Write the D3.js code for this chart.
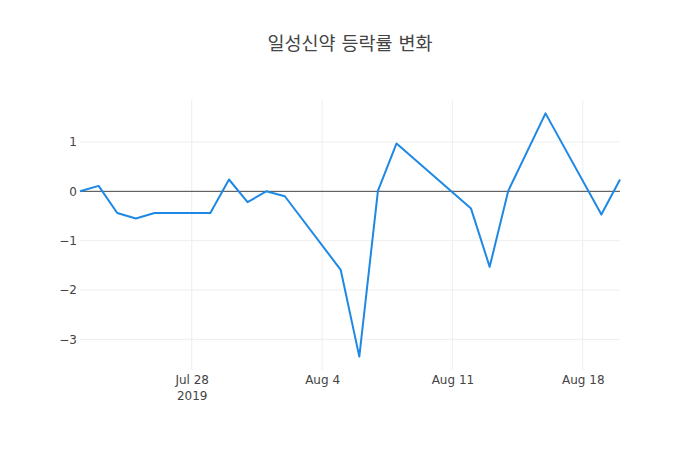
<!DOCTYPE html>
<html>
<head>
<meta charset="utf-8">
<script src="https://cdn.jsdelivr.net/npm/d3@7"></script>
<style>
  body { margin: 0; background: #fff; }
  text { font-family: "DejaVu Sans", "Noto Sans CJK KR", sans-serif; }
</style>
</head>
<body>
<script>
// trading days and daily change rate (%)
const dates = ["2019-07-22", "2019-07-23", "2019-07-24", "2019-07-25", "2019-07-26",
               "2019-07-29", "2019-07-30", "2019-07-31", "2019-08-01", "2019-08-02",
               "2019-08-05", "2019-08-06", "2019-08-07", "2019-08-08",
               "2019-08-12", "2019-08-13", "2019-08-14", "2019-08-16",
               "2019-08-19", "2019-08-20"];
const changes = [0, 0.11, -0.44, -0.55, -0.44,
                 -0.44, 0.24, -0.22, 0, -0.10,
                 -1.59, -3.35, 0.01, 0.97,
                 -0.35, -1.53, 0.01, 1.58,
                 -0.47, 0.24];
const xTicks = ["2019-07-28", "2019-08-04", "2019-08-11", "2019-08-18"];
const yTicks = [-3, -2, -1, 0, 1];
const title = "일성신약 등락률 변화";

const parse = d3.timeParse("%Y-%m-%d");
const data = dates.map((d, i) => ({date: parse(d), value: changes[i]}));

const margin = {top: 100, right: 80, bottom: 80, left: 80};
const outerWidth = 700, outerHeight = 450;
const width = outerWidth - margin.left - margin.right;
const height = outerHeight - margin.top - margin.bottom;

const outerSvg = d3.select("body").append("svg")
    .attr("width", outerWidth)
    .attr("height", outerHeight);

const svg = outerSvg.append("g")
    .attr("transform", "translate(" + margin.left + "," + margin.top + ")");

const xScale = d3.scaleTime()
    .domain(d3.extent(data, d => d.date))
    .range([0, width]);

const yMin = d3.min(changes), yMax = d3.max(changes);
const pad = (yMax - yMin) * 0.055;
const yScale = d3.scaleLinear()
    .domain([yMin - pad, yMax + pad])
    .range([height, 0]);

// grid lines
svg.append("g").selectAll("line")
    .data(yTicks.filter(t => t !== 0))
    .join("line")
    .attr("x1", 0).attr("x2", width)
    .attr("y1", d => yScale(d)).attr("y2", d => yScale(d))
    .attr("stroke", "#eee").attr("stroke-width", 1);

svg.append("g").selectAll("line")
    .data(xTicks.map(parse))
    .join("line")
    .attr("x1", d => xScale(d)).attr("x2", d => xScale(d))
    .attr("y1", 0).attr("y2", height)
    .attr("stroke", "#eee").attr("stroke-width", 1);

// zero line
svg.append("line")
    .attr("x1", 0).attr("x2", width)
    .attr("y1", yScale(0)).attr("y2", yScale(0))
    .attr("stroke", "#444").attr("stroke-width", 1);

// axes
const fmt = d3.timeFormat("%b %-d");
const xAxis = svg.append("g")
    .attr("transform", "translate(0," + height + ")")
    .call(d3.axisBottom(xScale).tickValues(xTicks.map(parse)).tickSize(0).tickPadding(5).tickFormat(fmt));
xAxis.select(".domain").remove();
xAxis.selectAll("text")
    .attr("fill", "#444").style("font-size", "12px")
    .filter((d, i) => i === 0)
    .each(function() {
        d3.select(this).append("tspan").attr("x", 0).attr("dy", "1.35em").text("2019");
    });

const yAxis = svg.append("g")
    .call(d3.axisLeft(yScale).tickValues(yTicks).tickSize(0).tickPadding(3)
        .tickFormat(d => d < 0 ? "\u2212" + Math.abs(d) : d));
yAxis.select(".domain").remove();
yAxis.selectAll("text").attr("fill", "#444").style("font-size", "12px");

// the line
const line = d3.line()
    .x(d => xScale(d.date))
    .y(d => yScale(d.value));

svg.append("path")
    .datum(data)
    .attr("d", line)
    .attr("fill", "none")
    .attr("stroke", "#1e88e5")
    .attr("stroke-width", 2)
    .attr("stroke-linejoin", "round");

// title
outerSvg.append("text")
    .attr("x", outerWidth / 2)
    .attr("y", 50)
    .attr("text-anchor", "middle")
    .attr("fill", "#444")
    .style("font-size", "18.5px")
    .text(title);
</script>
</body>
</html>
